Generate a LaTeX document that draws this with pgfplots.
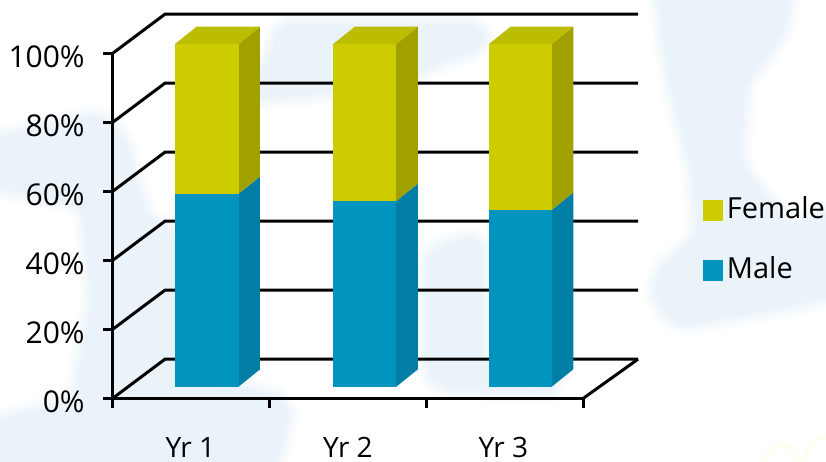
\documentclass[border=0pt]{standalone}
\usepackage{pgfplots}
\pgfplotsset{compat=1.18}
\usepackage{fontspec}
\setmainfont{Open Sans}
\definecolor{yfront}{HTML}{CCCC00}
\definecolor{yside}{HTML}{A0A000}
\definecolor{ytop}{HTML}{BDBD00}
\definecolor{bfront}{HTML}{0094BF}
\definecolor{bside}{HTML}{007EA5}
\definecolor{wash}{HTML}{EAF3F9}

% soft pale shape for the page backdrop: light rims under a solid middle
\newcommand\wash[1]{%
  \path[fill=wash!20!white,draw=wash!20!white,line width=26pt,line join=round,rounded corners=14pt] #1;
  \path[fill=wash!40!white,draw=wash!40!white,line width=19pt,line join=round,rounded corners=14pt] #1;
  \path[fill=wash!60!white,draw=wash!60!white,line width=12pt,line join=round,rounded corners=14pt] #1;
  \path[fill=wash!80!white,draw=wash!80!white,line width=6pt,line join=round,rounded corners=14pt] #1;
  \path[fill=wash,rounded corners=14pt] #1;
}

% one coloured block of a stacked column: left x, right x, lower %, upper %, front, side
\newcommand\block[6]{%
  \pgfmathsetmacro\ya{(11.6+3.427*#3)/3.45}%
  \pgfmathsetmacro\yb{(11.6+3.427*#4)/3.45}%
  \pgfmathsetmacro\yc{\ya+5.01}%
  \pgfmathsetmacro\yd{\yb+5.01}%
  \pgfmathsetmacro\xr{#2+0.137}%
  \pgfmathsetmacro\xs{#2-0.006}%
  \addplot[fill=#6,draw=none,forget plot] coordinates {(\xs,\ya) (#2,\ya) (\xr,\yc) (\xr,\yd) (#2,\yb) (\xs,\yb)} -- cycle;
  \addplot[fill=#5,draw=none,forget plot] coordinates {(#1,\ya) (#2,\ya) (#2,\yb) (#1,\yb)} -- cycle;
}
% full column: left x, right x, male %, female %
\newcommand\column[4]{%
  \pgfmathsetmacro\topv{#3+#4}%
  \block{#1}{#2}{0}{#3}{bfront}{bside}%
  \block{#1}{#2}{#3}{\topv}{yfront}{yside}%
  \pgfmathsetmacro\yb{(11.6+3.427*\topv)/3.45}%
  \pgfmathsetmacro\yd{\yb+5.01}%
  \pgfmathsetmacro\xl{#1+0.137}%
  \pgfmathsetmacro\xr{#2+0.137}%
  \addplot[fill=ytop,draw=none,forget plot] coordinates {(#1,\yb) (#2,\yb) (\xr,\yd) (\xl,\yd)} -- cycle;
}

\begin{document}
\begin{tikzpicture}[x=1pt,y=1pt]
\useasboundingbox (-112.7,-62.7) rectangle (713.3,398.3);
\fill[white] (-112.7,-62.7) rectangle (713.3,398.3);
\begin{scope}[shift={(-112.7,398.3)},y=-1pt]
  \clip (0,0) rectangle (826,461);
  \wash{(-30,145) -- (100,115) -- (122,135) -- (147,220) -- (178,235) -- (178,390) -- (240,387) -- (285,400) -- (287,425) -- (265,490) -- (-30,490) -- (-30,430) -- (75,400) -- (93,300) -- (83,205) -- (-30,180) -- cycle}
  \wash{(240,100) -- (270,60) -- (280,25) -- (385,25) -- (480,25) -- (485,45) -- (420,70) -- (400,85) -- cycle}
  \wash{(427,255) -- (450,243) -- (481,237) -- (481,365) -- (551,377) -- (551,393) -- (440,387) -- (427,370) -- cycle}
  \wash{(657,-20) -- (793,-20) -- (785,25) -- (775,45) -- (743,85) -- (740,165) -- (755,185) -- (790,227) -- (840,210) -- (840,293) -- (780,307) -- (680,325) -- (657,305) -- (657,273) -- (700,235) -- (693,170) -- (670,80) -- cycle}
  \draw[color=yellow!6,line width=4pt] (762,461) .. controls (775,440) and (790,440) .. (800,461);
  \draw[color=yellow!6,line width=4pt] (805,461) .. controls (805,440) and (826,432) .. (840,440);
\end{scope}
\begin{axis}[
  at={(0,0)},anchor=south west,
  scale only axis,width=470.6pt,height=345pt,
  xmin=0,xmax=3,ymin=0,ymax=100,
  clip=false,
  axis lines*=left,
  axis line style={line width=3pt,black,-},
  tick align=outside,
  major tick length=9.5pt,
  tick style={line width=3pt,black},
  xtick={0,1,2,3},xticklabels={},
  extra x ticks={0.495,1.5,2.49},
  extra x tick labels={Yr 1,Yr 2,Yr 3},
  extra x tick style={major tick length=0pt,tick style={draw=none},
    xticklabel style={font=\fontsize{28}{30}\selectfont,anchor=base,yshift=-59pt}},
  ytick={0,20,40,60,80,100},
  yticklabels={0\%,20\%,40\%,60\%,80\%,100\%},
  yticklabel style={font=\fontsize{30}{32}\selectfont,xshift=-15pt,yshift=-3pt},
  legend style={at={(axis cs:3.76,58.4)},anchor=north west,draw=none,fill=none,
    inner sep=0pt,outer sep=0pt,row sep=36pt,
    nodes={font=\fontsize{29}{31}\selectfont,inner sep=0pt,outer sep=0pt}},
  legend cell align=left,
]
% wall and floor lines
\pgfplotsinvokeforeach{0,20,40,60,80,100}{
  \pgfmathsetmacro\back{#1+11.35}
  \addplot[black,line width=3pt,line join=miter,forget plot] coordinates {(0,#1) (0.3334,\back) (3.349,\back)};
}
\addplot[black,line width=3pt,forget plot] coordinates {(3,0) (3.349,11.35)};
% stacked columns
\column{0.397}{0.802}{56.3}{43.7}
\column{1.406}{1.808}{54.2}{45.8}
\column{2.399}{2.799}{51.6}{48.4}
% legend keys
\addlegendimage{legend image code/.code={\fill[yfront] (0pt,-12pt) rectangle (19pt,8pt);}}
\addlegendentry{\hspace{5pt}Female}
\addlegendimage{legend image code/.code={\fill[bfront] (0pt,-12pt) rectangle (19pt,8pt);}}
\addlegendentry{\hspace{5pt}Male}
\end{axis}
\end{tikzpicture}
\end{document}
